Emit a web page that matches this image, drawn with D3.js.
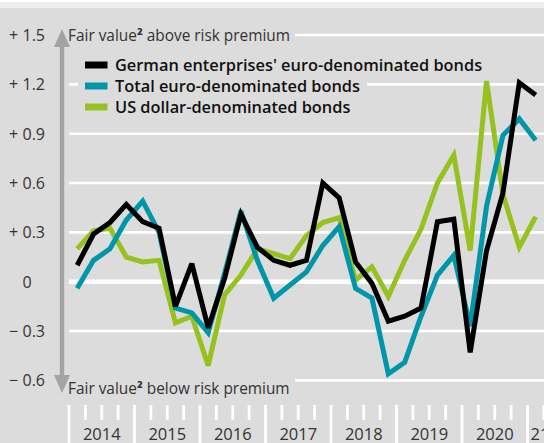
<!DOCTYPE html>
<html>
<head>
<meta charset="utf-8">
<script src="https://cdn.jsdelivr.net/npm/d3@7/dist/d3.min.js"></script>
<style>
  html, body { margin: 0; padding: 0; background: #dcdcdc; }
  svg { display: block; font-family: "Open Sans", "Noto Sans", sans-serif; }
</style>
</head>
<body>
<svg id="chart" width="544" height="443"></svg>
<script>
// quarterly observations, 2014 Q1 .. 2021 Q1
const quarters = [
  "2014Q1","2014Q2","2014Q3","2014Q4","2015Q1","2015Q2","2015Q3","2015Q4",
  "2016Q1","2016Q2","2016Q3","2016Q4","2017Q1","2017Q2","2017Q3","2017Q4",
  "2018Q1","2018Q2","2018Q3","2018Q4","2019Q1","2019Q2","2019Q3","2019Q4",
  "2020Q1","2020Q2","2020Q3","2020Q4","2021Q1"
];
const yearLabels = ["2014","2015","2016","2017","2018","2019","2020","21"];
const yTicks = [1.5, 1.2, 0.9, 0.6, 0.3, 0, -0.3, -0.6];

const german = [0.10,0.29,0.36,0.47,0.365,0.325,-0.15,0.11,-0.28,0.02,0.41,0.21,0.13,0.10,0.13,
  0.60,0.51,0.12,-0.01,-0.24,-0.21,-0.16,0.365,0.38,-0.43,0.19,0.54,1.21,1.135];
const totalEuro = [-0.04,0.13,0.20,0.375,0.49,0.30,-0.16,-0.19,-0.31,0.05,0.43,0.13,-0.10,-0.02,0.06,
  0.22,0.335,-0.04,-0.10,-0.56,-0.49,-0.21,0.04,0.16,-0.27,0.46,0.89,0.99,0.86];
const usDollar = [0.20,0.31,0.325,0.15,0.12,0.13,-0.25,-0.21,-0.51,-0.08,0.04,0.20,0.17,0.14,0.28,
  0.36,0.39,0.01,0.09,-0.09,0.13,0.32,0.60,0.77,0.19,1.22,0.53,0.21,0.395];

const seriesNames = [
  "German enterprises' euro-denominated bonds",
  "Total euro-denominated bonds",
  "US dollar-denominated bonds"
];
const seriesColors = ["#000000", "#0096a9", "#97c11f"];

const W = 544, H = 443;
const bg = "#dcdcdc";
const svg = d3.select("#chart");

svg.append("rect").attr("width", W).attr("height", H).attr("fill", bg);
svg.append("rect").attr("width", W).attr("height", 8).attr("fill", "#eeeeee");
svg.append("rect").attr("width", W).attr("height", 2).attr("fill", "#ffffff");

// quarter index -> x (quarter boundaries), value -> y
const x = d3.scaleLinear().domain([0, 30]).range([69, 69 + 16.375 * 30]);
const y = d3.scaleLinear().domain([-0.6, 1.5]).range([380.4, 35]);

const fmtSign = v => v > 0 ? "+" : (v < 0 ? "\u2212" : "");
const fmtNum = v => v === 0 ? "0" : d3.format(".1f")(Math.abs(v));

// axis titles first so gridlines can start after them
function axisTitle(ty, word) {
  const t = svg.append("text")
    .attr("x", 68).attr("y", ty)
    .attr("font-size", 15.4).attr("fill", "#333");
  t.append("tspan").text("Fair value");
  t.append("tspan").attr("font-weight", 700).text("\u00b2");
  t.append("tspan").text(" " + word + " risk premium");
  return t;
}
const titleTop = axisTitle(y(1.5) + 6, "above");
axisTitle(394, "below");
const titleW = titleTop.node().getComputedTextLength();

// gridlines
svg.append("g").selectAll("line")
  .data(yTicks)
  .join("line")
  .attr("x1", d => (d === 1.5 || d === -0.6) ? 68 + titleW + 5 : x(0))
  .attr("x2", W)
  .attr("y1", d => y(d)).attr("y2", d => y(d))
  .attr("stroke", "#fff")
  .attr("stroke-width", d => d === 0 ? 4.5 : 2.6);

// y tick labels (sign and number set apart)
const yl = svg.append("g").attr("font-size", 16).attr("fill", "#333");
yl.selectAll("text.sign")
  .data(yTicks.filter(d => d !== 0))
  .join("text")
  .attr("class", "sign")
  .attr("x", 9).attr("y", d => y(d) + 6)
  .text(fmtSign);
yl.selectAll("text.num")
  .data(yTicks)
  .join("text")
  .attr("class", "num")
  .attr("x", 22.5).attr("y", d => y(d) + 6)
  .text(fmtNum);

// gray arrow
const arrow = svg.append("g").attr("fill", "#a3a3a3");
arrow.append("rect").attr("x", 59.8).attr("y", 44).attr("width", 4.4).attr("height", 334);
arrow.append("path").attr("d", "M62,29 L70,47 L54,47 Z");
arrow.append("path").attr("d", "M62,393 L70,375 L54,375 Z");

// x axis ticks
const xa = svg.append("g").attr("stroke", "#fff").attr("stroke-width", 2.8);
xa.selectAll("line")
  .data(d3.range(0, 30))
  .join("line")
  .attr("x1", d => x(d)).attr("x2", d => x(d))
  .attr("y1", 405)
  .attr("y2", d => d % 4 === 0 ? H : 420);

svg.append("g").attr("font-size", 16.5).attr("fill", "#333")
  .selectAll("text")
  .data(yearLabels)
  .join("text")
  .attr("x", (d, i) => i < 7 ? x(i * 4 + 2) : x(28) + 3)
  .attr("y", 440)
  .attr("text-anchor", (d, i) => i < 7 ? "middle" : "start")
  .text(d => d);

// lines
const line = d3.line()
  .x((d, i) => x(i + 0.5))
  .y(d => y(d));

const allSeries = [german, totalEuro, usDollar];
[2, 1, 0].forEach(k => {
  svg.append("path")
    .datum(allSeries[k])
    .attr("d", line)
    .attr("fill", "none")
    .attr("stroke", seriesColors[k])
    .attr("stroke-width", 5)
    .attr("stroke-linejoin", "miter")
    .attr("stroke-miterlimit", 3);
});

// legend
const legend = svg.append("g");
const rows = legend.selectAll("g")
  .data(seriesNames)
  .join("g")
  .attr("transform", (d, i) => `translate(85, ${65 + i * 21})`);
rows.append("rect").attr("class", "bg").attr("fill", bg);
rows.append("rect")
  .attr("x", 0).attr("y", -3.5).attr("width", 22.5).attr("height", 7)
  .attr("fill", (d, i) => seriesColors[i]);
rows.append("text")
  .attr("x", 30).attr("y", 6)
  .attr("font-size", 16.35).attr("font-weight", 600).attr("fill", "#111")
  .text(d => d);
rows.each(function() {
  const g = d3.select(this);
  const w = g.select("text").node().getComputedTextLength();
  g.select("rect.bg").attr("x", -7).attr("y", -10).attr("width", w + 44).attr("height", 20);
});
</script>
</body>
</html>
